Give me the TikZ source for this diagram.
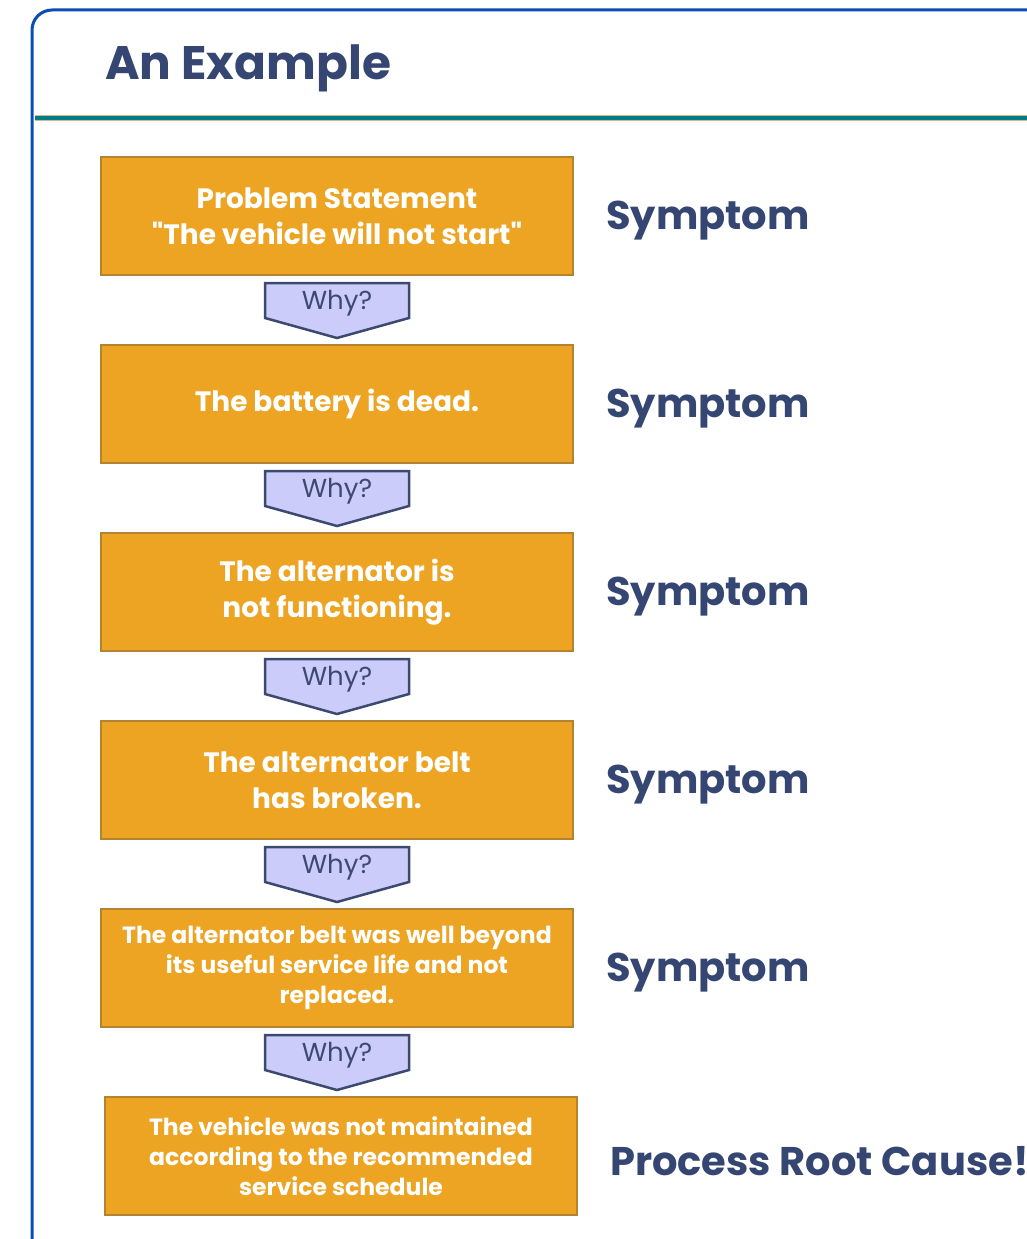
\documentclass[tikz,border=0pt]{standalone}
\usepackage{fontspec}
\setmainfont{Poppins}[Ligatures=TeXOff]
\usetikzlibrary{positioning}

\definecolor{boxfill}{HTML}{ECA422}
\definecolor{boxline}{HTML}{B5832F}
\definecolor{navy}{HTML}{344671}
\definecolor{whyfill}{HTML}{CCCCFA}
\definecolor{whyline}{HTML}{3B4A6E}
\definecolor{frameblue}{HTML}{0B4DB2}
\definecolor{rule}{HTML}{007C86}
\definecolor{ruleedge}{HTML}{D8B885}

\tikzset{
  stepbox/.style={draw=boxline, line width=2.5pt, fill=boxfill, minimum width=472pt, minimum height=118pt, inner sep=0pt, align=center, text=white, font=\fontsize{28}{36}\selectfont\bfseries},
  smallstep/.style={stepbox, font=\fontsize{23.5}{30}\selectfont\bfseries},
  whyarrow/.style={draw=whyline, line width=2.5pt, fill=whyfill, line join=miter},
  whytext/.style={text=whyline, font=\fontsize{26}{26}\selectfont, inner sep=0pt},
  tag/.style={text=navy, anchor=west, inner sep=0pt, font=\fontsize{40}{40}\selectfont\bfseries}
}

\begin{document}
\begin{tikzpicture}[x=1pt, y=-1pt]
\clip (0,0) rectangle (1027,1239);
\fill[white] (0,0) rectangle (1027,1239);

% frame and heading
\draw[frameblue, line width=3pt, rounded corners=20pt] (32,1280) -- (32,10) -- (1080,10);
\node[text=navy, anchor=west, inner sep=0pt, font=\fontsize{47}{47}\selectfont\bfseries] (title) at (105,68) {An Example};
\draw[ruleedge, line width=6pt] (35,118) -- (1027,118);
\draw[rule, line width=3.5pt] (35,118) -- (1027,118);

% the chain of whys
\node[stepbox] (box1) at (337,216) {Problem Statement\\"The vehicle will not start"};
\node[stepbox] (box2) at (337,404) {The battery is dead.};
\node[stepbox] (box3) at (337,592) {The alternator is\\not functioning.};
\node[stepbox] (box4) at (337,780) {The alternator belt\\has broken.};
\node[smallstep] (box5) at (337,968) {The alternator belt was well beyond\\its useful service life and not\\replaced.};
\node[smallstep] (box6) at (341,1156) {The vehicle was not maintained\\according to the recommended\\service schedule};

\foreach \i [evaluate=\i as \t using {283+188*(\i-1)}] in {1,...,5}{
  \draw[whyarrow] (265,\t) -- (409,\t) -- (409,\t+35) -- (337,\t+55) -- (265,\t+35) -- cycle;
  \node[whytext] (why\i) at (337,\t+20) {Why?};
}

% labels on the right
\foreach \i [evaluate=\i as \t using {221+188*(\i-1)}] in {1,...,5}
  \node[tag] (sym\i) at (606,\t) {Symptom};
\node[tag] (root) at (610,1161) {Process Root Cause!};

\end{tikzpicture}
\end{document}
